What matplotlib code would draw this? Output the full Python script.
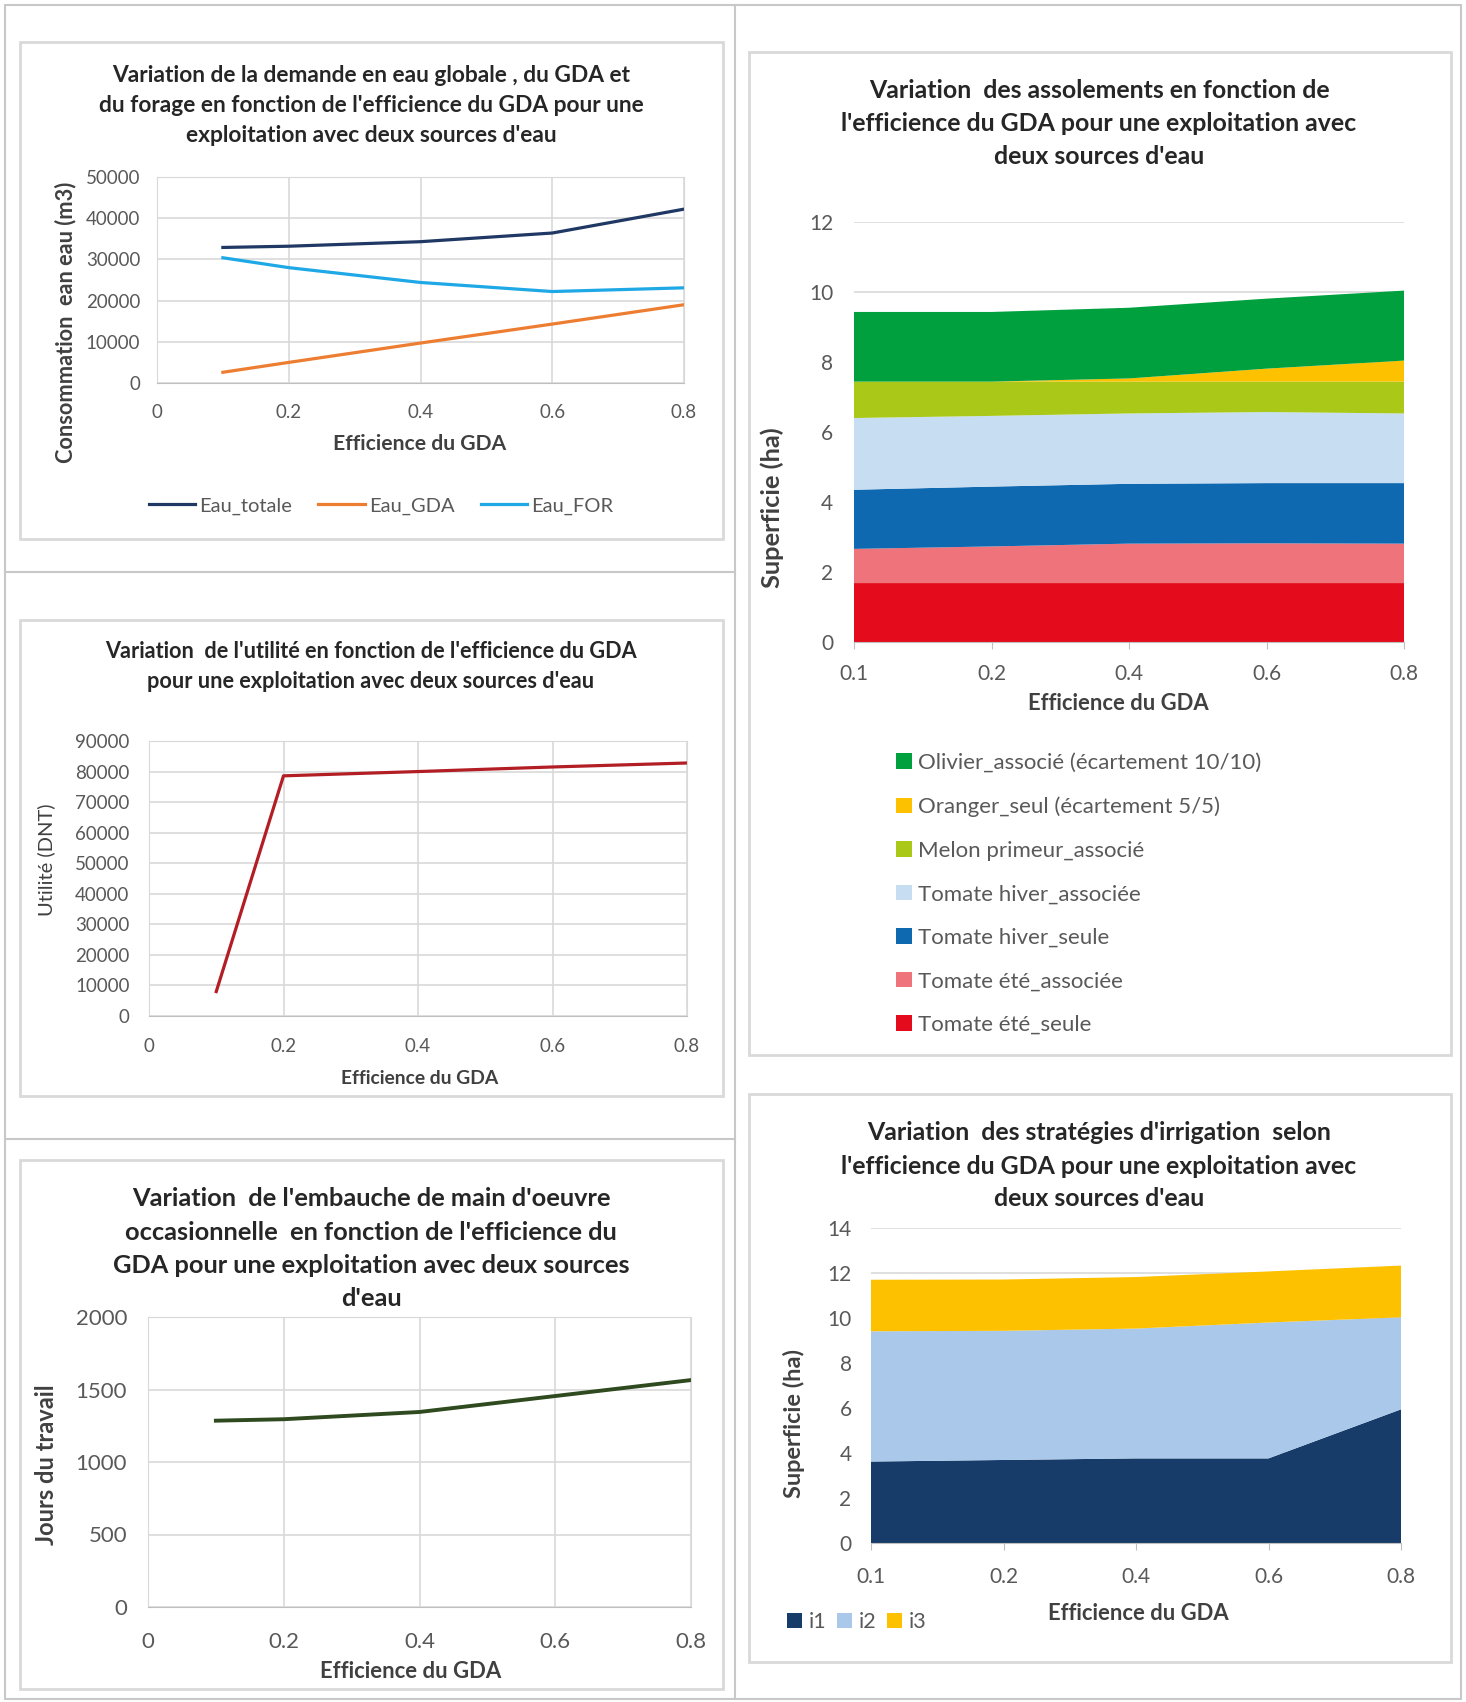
import matplotlib
matplotlib.use('Agg')
import matplotlib.pyplot as plt
from matplotlib.patches import Rectangle
from matplotlib.lines import Line2D

plt.rcParams['font.family'] = ['Lato', 'DejaVu Sans']

W, H = 1466, 1702

# data
efficience = [0.1, 0.2, 0.4, 0.6, 0.8]
eff_labels = ['0.1', '0.2', '0.4', '0.6', '0.8']

eau_totale = [32900, 33200, 34300, 36400, 42200]
eau_gda = [2600, 5000, 9700, 14300, 19000]
eau_for = [30400, 28000, 24400, 22200, 23100]

utilite = [8000, 78600, 80000, 81500, 82800]

jours_travail = [1285, 1295, 1345, 1455, 1565]

cultures = ['Tomate été_seule', 'Tomate été_associée', 'Tomate hiver_seule',
            'Tomate hiver_associée', 'Melon primeur_associé',
            'Oranger_seul (écartement 5/5)', 'Olivier_associé (écartement 10/10)']
tomate_ete_seule = [1.68, 1.68, 1.68, 1.68, 1.68]
tomate_ete_associee = [0.98, 1.05, 1.13, 1.14, 1.13]
tomate_hiver_seule = [1.69, 1.71, 1.71, 1.72, 1.73]
tomate_hiver_associee = [2.05, 2.02, 2.01, 2.03, 1.99]
melon_primeur = [1.04, 0.98, 0.91, 0.87, 0.91]
oranger_seul = [0.0, 0.0, 0.09, 0.37, 0.60]
olivier_associe = [1.99, 1.99, 2.02, 2.00, 2.00]
cultures_colors = ['#E30B1C', '#EE737A', '#0F69B0', '#C7DDF2',
                   '#A9C817', '#FDC100', '#00A03E']

strategies = ['i1', 'i2', 'i3']
i1 = [3.62, 3.69, 3.76, 3.76, 5.94]
i2 = [5.79, 5.74, 5.77, 6.04, 4.09]
i3 = [2.29, 2.28, 2.29, 2.27, 2.30]
strategies_colors = ['#173C69', '#A9C8EA', '#FDC100']

TITLE_C = '#262626'
TICK_C = '#595959'
LABEL_C = '#404040'
GRID_C = '#D9D9D9'


def fx(x):
    return x / W


def fy(y):
    return 1 - y / H


def add_axes_px(fig, x0, y0, x1, y1):
    return fig.add_axes([fx(x0), fy(y1), fx(x1 - x0), (y1 - y0) / H])


def box_px(fig, x0, y0, x1, y1, color, lw):
    fig.patches.append(Rectangle((fx(x0), fy(y1)), fx(x1 - x0), (y1 - y0) / H,
                                 transform=fig.transFigure, fill=False,
                                 edgecolor=color, linewidth=lw))


def title_px(fig, lines, xc, y0, pitch, size):
    for i, line in enumerate(lines):
        fig.text(fx(xc), fy(y0 + i * pitch), line, ha='center', va='center',
                 fontsize=size, fontweight='bold', color=TITLE_C)


def style_axes(ax, tick_size, xpad, ypad, vgrid=True):
    ax.set_axisbelow(True)
    ax.grid(True, axis='y', color=GRID_C, linewidth=1.2)
    if vgrid:
        ax.grid(True, axis='x', color=GRID_C, linewidth=1.2)
    for side in ['top', 'right', 'left']:
        ax.spines[side].set_visible(vgrid)
        ax.spines[side].set_color(GRID_C)
    ax.spines['bottom'].set_color('#BFBFBF')
    ax.tick_params(axis='both', length=0, labelsize=tick_size,
                   labelcolor=TICK_C)
    ax.tick_params(axis='x', pad=xpad)
    ax.tick_params(axis='y', pad=ypad)


fig = plt.figure(figsize=(W / 100, H / 100), dpi=100)

# frame and panel boxes
box_px(fig, 5, 5, 1461, 1699, '#C8C8C8', 1.5)
fig.add_artist(Line2D([fx(735), fx(735)], [fy(5), fy(1699)], color='#C8C8C8', lw=1.5))
fig.add_artist(Line2D([fx(5), fx(735)], [fy(572), fy(572)], color='#C8C8C8', lw=1.5))
fig.add_artist(Line2D([fx(5), fx(735)], [fy(1139), fy(1139)], color='#C8C8C8', lw=1.5))
for b in [(19.5, 42, 723, 539), (19.5, 620, 723, 1096), (19.5, 1160, 723, 1689),
          (749, 52, 1451, 1055), (749, 1094, 1451, 1662)]:
    box_px(fig, *b, '#D9D9D9', 2)

# chart 1 : water demand
ax1 = add_axes_px(fig, 157, 177, 684, 383)
ax1.plot(efficience, eau_totale, color='#1F3864', lw=2.3, label='Eau_totale')
ax1.plot(efficience, eau_gda, color='#ED7D31', lw=2.3, label='Eau_GDA')
ax1.plot(efficience, eau_for, color='#1EA8E6', lw=2.3, label='Eau_FOR')
ax1.set_xlim(0, 0.8)
ax1.set_ylim(0, 50000)
ax1.set_xticks([0, 0.2, 0.4, 0.6, 0.8], ['0', '0.2', '0.4', '0.6', '0.8'])
ax1.set_yticks(range(0, 50001, 10000))
style_axes(ax1, 13.5, 15, 12)
title_px(fig, ["Variation de la demande en eau globale , du GDA et",
               "du forage en fonction de l'efficience du GDA pour une",
               "exploitation avec deux sources d'eau"], 371, 76, 30, 16.4)
fig.text(fx(66), fy(322), 'Consommation  ean eau (m3)', rotation=90,
         ha='center', va='center', fontsize=15.7, fontweight='bold', color=LABEL_C)
fig.text(fx(420), fy(444), 'Efficience du GDA', ha='center', va='center',
         fontsize=15.2, fontweight='bold', color=LABEL_C)
fig.legend(*ax1.get_legend_handles_labels(), loc='center',
           bbox_to_anchor=(fx(381), fy(506)), ncol=3, frameon=False,
           fontsize=14.5, labelcolor=TICK_C, handlelength=2.3, handletextpad=0.2,
           columnspacing=1.3)

# chart 2 : utility
ax2 = add_axes_px(fig, 149, 741, 687, 1016)
ax2.plot(efficience, utilite, color='#B21E24', lw=2.3)
ax2.set_xlim(0, 0.8)
ax2.set_ylim(0, 90000)
ax2.set_xticks([0, 0.2, 0.4, 0.6, 0.8], ['0', '0.2', '0.4', '0.6', '0.8'])
ax2.set_yticks(range(0, 90001, 10000))
style_axes(ax2, 13.5, 16, 14)
title_px(fig, ["Variation  de l'utilité en fonction de l'efficience du GDA",
               "pour une exploitation avec deux sources d'eau"], 371, 652, 29, 15.6)
fig.text(fx(46), fy(860), 'Utilité (DNT)', rotation=90, ha='center',
         va='center', fontsize=14.5, color=LABEL_C)
fig.text(fx(420), fy(1078), 'Efficience du GDA', ha='center', va='center',
         fontsize=13.9, fontweight='bold', color=LABEL_C)

# chart 3 : labour
ax3 = add_axes_px(fig, 148, 1317, 691, 1607)
ax3.plot(efficience, jours_travail, color='#2E4A1E', lw=2.8)
ax3.set_xlim(0, 0.8)
ax3.set_ylim(0, 2000)
ax3.set_xticks([0, 0.2, 0.4, 0.6, 0.8], ['0', '0.2', '0.4', '0.6', '0.8'])
ax3.set_yticks(range(0, 2001, 500))
style_axes(ax3, 16, 18, 15)
title_px(fig, ["Variation  de l'embauche de main d'oeuvre",
               "occasionnelle  en fonction de l'efficience du",
               "GDA pour une exploitation avec deux sources",
               "d'eau"], 371, 1199, 33.3, 18.3)
fig.text(fx(46), fy(1465), 'Jours du travail', rotation=90, ha='center',
         va='center', fontsize=17, fontweight='bold', color=LABEL_C)
fig.text(fx(411), fy(1672), 'Efficience du GDA', ha='center', va='center',
         fontsize=15.9, fontweight='bold', color=LABEL_C)

# chart 4 : crops
pos = list(range(len(efficience)))
ax4 = add_axes_px(fig, 854, 222, 1404, 642)
ax4.stackplot(pos, tomate_ete_seule, tomate_ete_associee, tomate_hiver_seule,
              tomate_hiver_associee, melon_primeur, oranger_seul,
              olivier_associe, colors=cultures_colors, labels=cultures, lw=0)
ax4.set_xlim(0, 4)
ax4.set_ylim(0, 12)
ax4.set_xticks(pos, eff_labels)
ax4.set_yticks(range(0, 13, 2))
style_axes(ax4, 15, 11, 15, vgrid=False)
ax4.tick_params(axis='x', length=5, color='#BFBFBF')
title_px(fig, ["Variation  des assolements en fonction de",
               "l'efficience du GDA pour une exploitation avec",
               "deux sources d'eau"], 1099, 91, 32.5, 17.9)
fig.text(fx(772), fy(508), 'Superficie (ha)', rotation=90, ha='center',
         va='center', fontsize=18.3, fontweight='bold', color=LABEL_C)
fig.text(fx(1118), fy(704), 'Efficience du GDA', ha='center', va='center',
         fontsize=15.8, fontweight='bold', color=LABEL_C)
h4, l4 = ax4.get_legend_handles_labels()
fig.legend(h4[::-1], l4[::-1], loc='upper left',
           bbox_to_anchor=(fx(876), fy(733)), frameon=False, fontsize=16,
           labelcolor=TICK_C, handlelength=0.7, handleheight=0.7,
           handletextpad=0.3, labelspacing=1.06)

# chart 5 : irrigation strategies
ax5 = add_axes_px(fig, 871, 1228, 1401, 1543)
ax5.stackplot(pos, i1, i2, i3, colors=strategies_colors, labels=strategies, lw=0)
ax5.set_xlim(0, 4)
ax5.set_ylim(0, 14)
ax5.set_xticks(pos, eff_labels)
ax5.set_yticks(range(0, 15, 2))
style_axes(ax5, 15, 12, 14, vgrid=False)
ax5.tick_params(axis='x', length=5, color='#BFBFBF')
title_px(fig, ["Variation  des stratégies d'irrigation  selon",
               "l'efficience du GDA pour une exploitation avec",
               "deux sources d'eau"], 1099, 1133, 33, 17.9)
fig.text(fx(794), fy(1424), 'Superficie (ha)', rotation=90, ha='center',
         va='center', fontsize=16.9, fontweight='bold', color=LABEL_C)
fig.text(fx(1138), fy(1614), 'Efficience du GDA', ha='center', va='center',
         fontsize=15.8, fontweight='bold', color=LABEL_C)
fig.legend(*ax5.get_legend_handles_labels(), loc='center left',
           bbox_to_anchor=(fx(768), fy(1622)), ncol=3, frameon=False,
           fontsize=15.5, labelcolor=TICK_C, handlelength=0.7, handleheight=0.7,
           handletextpad=0.3, columnspacing=0.5)

fig.savefig('out.png', dpi=100, facecolor='white')
